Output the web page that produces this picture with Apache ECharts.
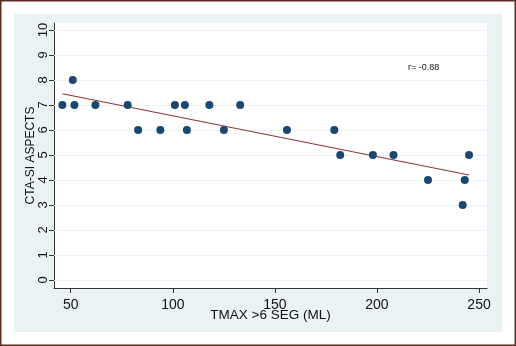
<!DOCTYPE html>
<html>
<head>
<meta charset="utf-8">
<script src="https://cdn.jsdelivr.net/npm/echarts@6/dist/echarts.min.js"></script>
<style>
  html, body { margin: 0; padding: 0; background: #fff; }
  #chart { width: 516px; height: 346px; }
</style>
</head>
<body>
<div id="chart"></div>
<script>
// TMAX >6 SEG (ML) vs CTA-SI ASPECTS
let tmax = [45.9, 51.0, 51.8, 62.1, 77.9, 83.0, 93.9, 101.0, 105.9, 106.9, 117.9,
  125.0, 133.0, 155.9, 179.1, 182.0, 198.0, 208.1, 225.0, 242.0, 243.0, 245.1];
let aspects = [7, 8, 7, 7, 7, 6, 6, 7, 7, 6, 7, 6, 7, 6, 6, 5, 5, 5, 4, 3, 4, 5];
// fitted line end points
let fitX = [45.9, 245.1];
let fitY = [7.45, 4.2];
let xTicks = [50, 100, 150, 200, 250];
let yTicks = [0, 1, 2, 3, 4, 5, 6, 7, 8, 9, 10];

let points = [];
for (let i = 0; i < tmax.length; i++) {
  points.push([tmax[i], aspects[i]]);
}
let fit = [];
for (let i = 0; i < fitX.length; i++) {
  fit.push([fitX[i], fitY[i]]);
}

var myChart = echarts.init(document.getElementById("chart"));
var font = "'Liberation Sans', Arial, sans-serif";

var option = {
  backgroundColor: "#fff",
  animation: false,
  textStyle: { fontFamily: font },
  graphic: [
    {
      type: "rect",
      shape: { x: 0.75, y: 0.75, width: 514.5, height: 344.5 },
      style: { fill: "#fff", stroke: "#5b2b24", lineWidth: 1.5 },
      z: -10,
    },
    {
      type: "rect",
      shape: { x: 14, y: 14, width: 488, height: 318 },
      style: { fill: "#eaf2f3" },
      z: -9,
    },
    {
      type: "text",
      left: 408,
      top: 63,
      style: { text: "r= -0.88", fontSize: 9, fontFamily: font, fill: "#111" },
    },
  ],
  grid: {
    left: 54,
    right: 29,
    top: 23,
    bottom: 58,
    show: true,
    backgroundColor: "#fff",
    borderWidth: 0,
  },
  xAxis: {
    type: "value",
    min: 41.8,
    max: 253.9,
    name: "TMAX >6 SEG (ML)",
    nameLocation: "middle",
    nameGap: 20,
    nameMoveOverlap: false,
    nameTextStyle: { fontSize: 13.5, color: "#111", fontFamily: font },
    axisLine: { show: true, onZero: false, lineStyle: { color: "#333", width: 1 } },
    axisTick: { show: true, length: 5, customValues: xTicks, lineStyle: { color: "#333" } },
    axisLabel: { customValues: xTicks, fontSize: 14, color: "#111", margin: 10 },
    splitLine: { show: false },
  },
  yAxis: {
    type: "value",
    min: -0.32,
    max: 10.28,
    name: "CTA-SI ASPECTS",
    nameLocation: "middle",
    nameRotate: 90,
    nameGap: 17,
    nameMoveOverlap: false,
    nameTextStyle: { fontSize: 12, color: "#111", fontFamily: font },
    axisLine: { show: true, onZero: false, lineStyle: { color: "#333", width: 1 } },
    axisTick: { show: true, length: 5, customValues: yTicks, lineStyle: { color: "#333" } },
    axisLabel: { customValues: yTicks, rotate: 90, fontSize: 13, color: "#111", margin: 4 },
    splitLine: { show: false },
  },
  series: [
    {
      type: "scatter",
      data: points,
      symbolSize: 8,
      itemStyle: { color: "#1a476f", opacity: 1 },
      z: 3,
      markLine: {
        silent: true,
        symbol: "none",
        label: { show: false },
        lineStyle: { color: "#eaf2f3", width: 1, type: "solid" },
        data: yTicks.map(function (v) { return { yAxis: v }; }),
        z: 1,
      },
    },
    {
      type: "line",
      data: fit,
      symbol: "none",
      lineStyle: { color: "#90353b", width: 1.2 },
      z: 2,
    },
  ],
};

option && myChart.setOption(option);
</script>
</body>
</html>
